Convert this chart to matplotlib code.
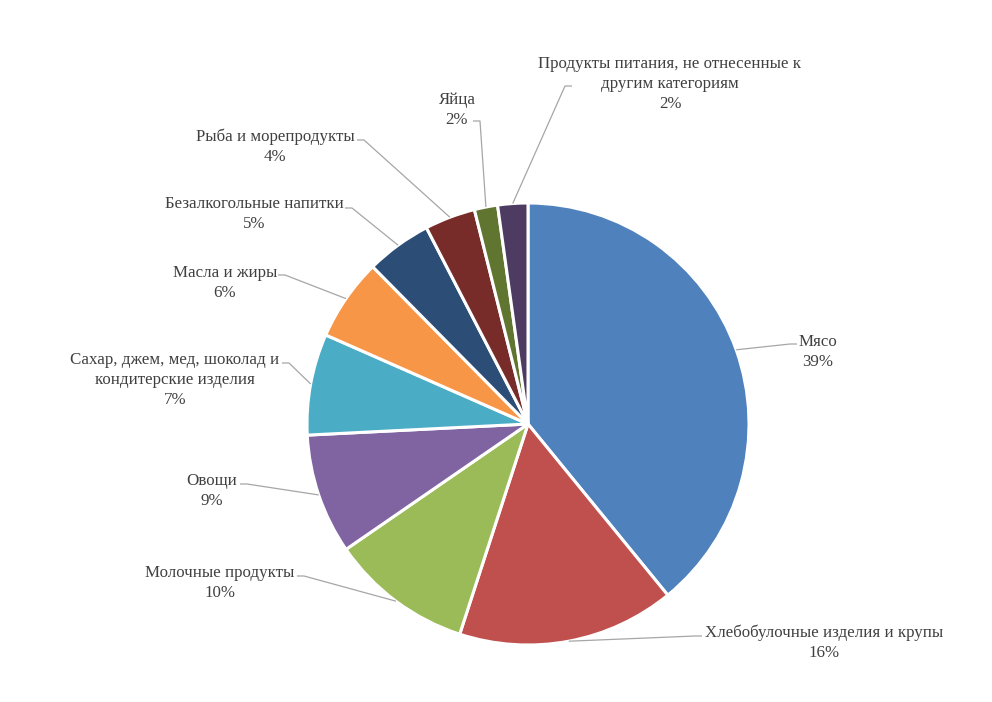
import matplotlib
matplotlib.use('Agg')
import matplotlib.pyplot as plt
import numpy as np

# доли категорий, %
categories = ['Мясо', 'Хлебобулочные изделия и крупы', 'Молочные продукты', 'Овощи',
              'Сахар, джем, мед, шоколад и\nкондитерские изделия', 'Масла и жиры',
              'Безалкогольные напитки', 'Рыба и морепродукты', 'Яйца',
              'Продукты питания, не отнесенные к\nдругим категориям']
shares = [39.1, 15.9, 10.4, 8.8, 7.4, 6.0, 4.8, 3.7, 1.7, 2.2]
colors = ['#4F81BD', '#C0504D', '#9BBB59', '#8064A2', '#4BACC6',
          '#F79646', '#2C4D75', '#772C2A', '#5F7530', '#4D3B62']

# положение подписей в пикселях (центр текста, точка начала выноски)
label_xy = [(818, 352), (824, 643), (220, 583), (212, 491), (175, 380),
            (225, 283), (254, 214), (275, 147), (457, 110), (670, 84)]
stub_xy = [(797, 344), (702, 636), (297, 576), (240, 484), (282, 363),
           (278, 275), (345, 208), (357, 140), (473, 121), (572, 86)]

W, H = 992, 702
cx, cy, r = 528, 424, 221

fig = plt.figure(figsize=(9.92, 7.02), dpi=100)
ax = fig.add_axes([0, 0, 1, 1])

wedges, _ = ax.pie(shares, colors=colors, startangle=90, counterclock=False,
                   center=(cx, H - cy), radius=r, frame=True,
                   wedgeprops=dict(edgecolor='white', linewidth=2.2))
ax.set_xlim(0, W)
ax.set_ylim(0, H)
ax.set_aspect('equal')
ax.axis('off')

for w, name, val, (tx, ty), (sx, sy) in zip(wedges, categories, shares, label_xy, stub_xy):
    ang = np.deg2rad((w.theta1 + w.theta2) / 2)
    px = cx + r * np.cos(ang)
    py = H - cy + r * np.sin(ang)
    # короткий горизонтальный отвод и линия к сектору
    step = 7 if px > sx else -7
    ax.plot([sx, sx + step, px], [H - sy, H - sy, py], color='#A6A6A6', lw=0.9,
            solid_capstyle='butt')
    ax.text(tx, H - ty, f'{name}\n{round(val):.0f}%', ha='center', va='center',
            fontsize=12.2, family='Liberation Serif', color='#404040', linespacing=1.37)

fig.savefig('out.png', dpi=100)
